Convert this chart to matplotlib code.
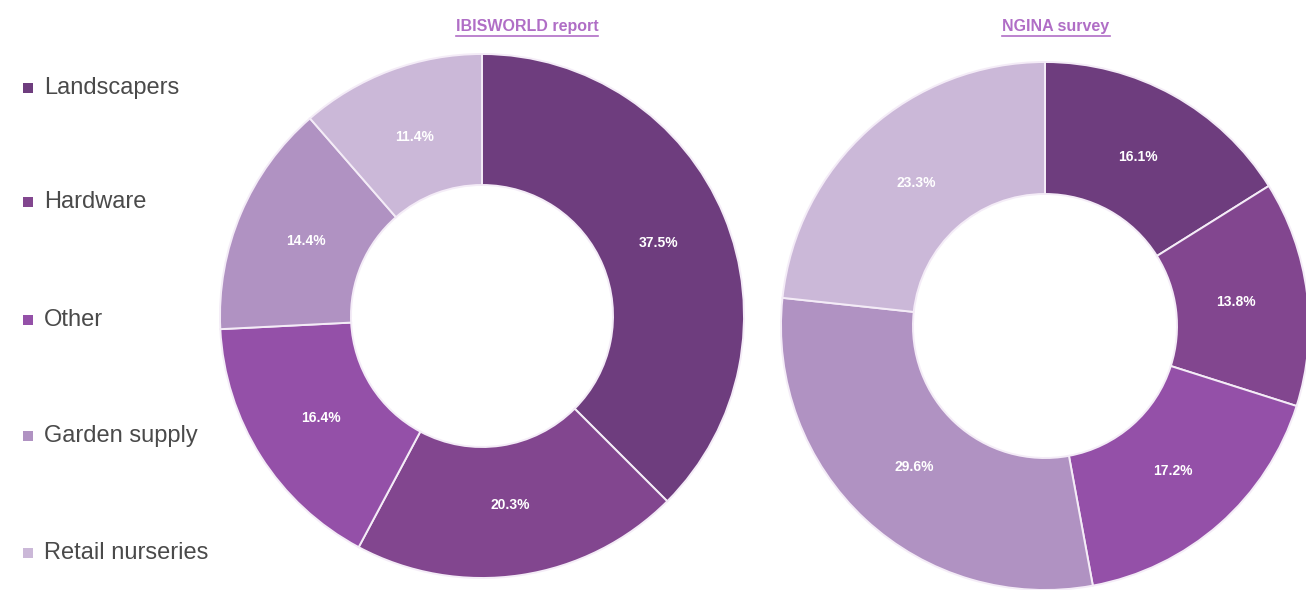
import matplotlib
matplotlib.use("Agg")
import matplotlib.pyplot as plt
import numpy as np
from matplotlib.patches import Rectangle
from matplotlib.lines import Line2D

categories = ["Landscapers", "Hardware", "Other", "Garden supply", "Retail nurseries"]
ibisworld = [37.5, 20.3, 16.4, 14.4, 11.4]
ngina = [16.1, 13.8, 17.2, 29.6, 23.3]
titles = ["IBISWORLD report", "NGINA survey"]
colors = ["#6e3d7e", "#82468f", "#9450a8", "#b092c2", "#cbb8d8"]

W, H = 1306, 590
fig = plt.figure(figsize=(W / 100, H / 100), dpi=100)
fig.patch.set_facecolor("white")

FONT = ["Liberation Sans", "DejaVu Sans"]


def donut(cx, cy, r, values, title, tx):
    ax = fig.add_axes([(cx - r) / W, (H - cy - r) / H, 2 * r / W, 2 * r / H])
    ax.pie(values, colors=colors, startangle=90, counterclock=False, radius=1.0,
           wedgeprops=dict(width=0.5, edgecolor="#f4ecf7", linewidth=1.4),
           frame=False)
    ax.set_xlim(-1, 1)
    ax.set_ylim(-1, 1)
    ax.set_aspect("equal")
    ax.axis("off")
    # value labels placed at the middle of each ring segment
    start = 90.0
    total = sum(values)
    for v in values:
        span = 360.0 * v / total
        mid = np.deg2rad(start - span / 2)
        ax.text(0.73 * np.cos(mid), 0.73 * np.sin(mid), f"{v:.1f}%",
                ha="center", va="center", color="white", fontsize=10,
                fontweight="bold", family=FONT)
        start -= span
    t = fig.text(tx / W, 1 - 27 / H, title, ha="center", va="center",
                 color="#b06ec6", fontsize=11.5, fontweight="bold", family=FONT)
    return t


t1 = donut(482, 316, 262, ibisworld, titles[0], 527)
t2 = donut(1045, 326, 264, ngina, titles[1], 1056)

# underline the titles
fig.canvas.draw()
renderer = fig.canvas.get_renderer()
for t in (t1, t2):
    bb = t.get_window_extent(renderer)
    fig.add_artist(Line2D([bb.x0 / W, bb.x1 / W], [(bb.y0 - 1) / H, (bb.y0 - 1) / H],
                          color="#b06ec6", linewidth=1.2, transform=fig.transFigure))

# legend on the left
leg_y = [88, 202, 320, 436, 553]
for name, col, y in zip(categories, colors, leg_y):
    s = 10
    fig.add_artist(Rectangle(((28 - s / 2) / W, (H - y - s / 2) / H), s / W, s / H,
                             facecolor=col, edgecolor="none", transform=fig.transFigure))
    fig.text(44 / W, 1 - y / H, name, ha="left", va="center", color="#4a4a4a",
             fontsize=17, family=FONT)

fig.savefig("out.png", dpi=100, facecolor="white")
